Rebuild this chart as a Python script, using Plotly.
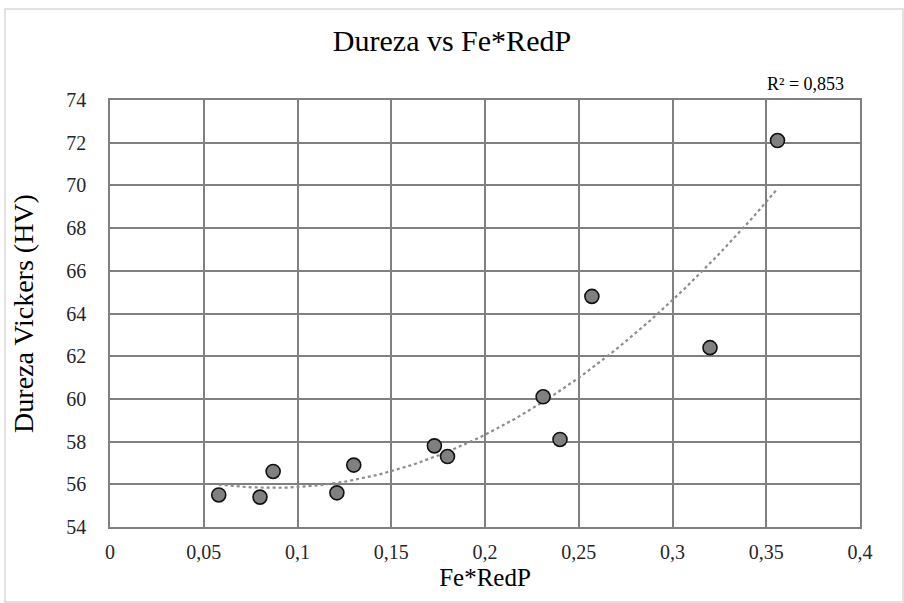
import numpy as np
import plotly.graph_objects as go

fe_redp = [0.058, 0.080, 0.087, 0.121, 0.130, 0.173, 0.180, 0.231, 0.240, 0.257, 0.320, 0.356]
dureza = [55.5, 55.4, 56.6, 55.6, 56.9, 57.8, 57.3, 60.1, 58.1, 64.8, 62.4, 72.1]

x_ticks = [0, 0.05, 0.1, 0.15, 0.2, 0.25, 0.3, 0.35, 0.4]
x_tick_labels = ["0", "0,05", "0,1", "0,15", "0,2", "0,25", "0,3", "0,35", "0,4"]
y_ticks = [54, 56, 58, 60, 62, 64, 66, 68, 70, 72, 74]

coef = np.polyfit(fe_redp, dureza, 2)
xt = np.linspace(min(fe_redp), max(fe_redp), 100)
yt = np.polyval(coef, xt)

fig = go.Figure()
fig.add_trace(go.Scatter(x=xt, y=yt, mode="lines",
                         line=dict(color="#8c8c8c", width=2.2, dash="dot"),
                         hoverinfo="skip", showlegend=False))
fig.add_trace(go.Scatter(x=fe_redp, y=dureza, mode="markers",
                         marker=dict(size=14, color="#808080",
                                     line=dict(color="#111111", width=1.6)),
                         showlegend=False))

font_fam = "Liberation Serif"
W, H = 904, 603
ml, mr, mt, mb = 110, 44, 100, 76
pw, ph = W - ml - mr, H - mt - mb

fig.update_layout(
    width=W, height=H,
    margin=dict(l=ml, r=mr, t=mt, b=mb),
    paper_bgcolor="white", plot_bgcolor="white",
    font=dict(family=font_fam, color="#262626", size=20),
    title=dict(text="Dureza vs Fe*RedP", x=0.5, xanchor="center", y=1 - 40 / H, yanchor="middle",
               font=dict(size=30, family=font_fam, color="#000000")),
    xaxis=dict(range=[0, 0.4], tickvals=x_ticks, ticktext=x_tick_labels,
               showgrid=True, gridcolor="#808080", gridwidth=1.5,
               zeroline=False, showline=True, linecolor="#808080", linewidth=2,
               mirror=True, ticks="", ticklabelstandoff=6,
               title=dict(text="Fe*RedP", font=dict(size=25, family=font_fam, color="#000000"), standoff=6),
               tickfont=dict(size=20, family=font_fam, color="#262626")),
    yaxis=dict(range=[54, 74], tickvals=y_ticks,
               showgrid=True, gridcolor="#808080", gridwidth=1.5,
               zeroline=False, showline=True, linecolor="#808080", linewidth=1.5,
               mirror=True, ticks="", ticklabelstandoff=18,
               title=dict(text="Dureza Vickers (HV)", font=dict(size=28, family=font_fam, color="#000000"), standoff=24),
               tickfont=dict(size=20, family=font_fam, color="#262626")),
    annotations=[dict(text="R² = 0,853", xref="paper", yref="paper",
                      x=(805 - ml) / pw, y=1 + 16 / ph, xanchor="center", yanchor="middle",
                      showarrow=False, font=dict(size=18, family=font_fam, color="#000000"))],
    shapes=[dict(type="rect", xref="paper", yref="paper",
                 x0=(5 - ml) / pw, x1=(W - 1 - ml) / pw,
                 y0=-(mb - 1) / ph, y1=1 + (mt - 9) / ph,
                 line=dict(color="#d9d9d9", width=1.5), layer="below")],
)

fig.write_html("out.html")
